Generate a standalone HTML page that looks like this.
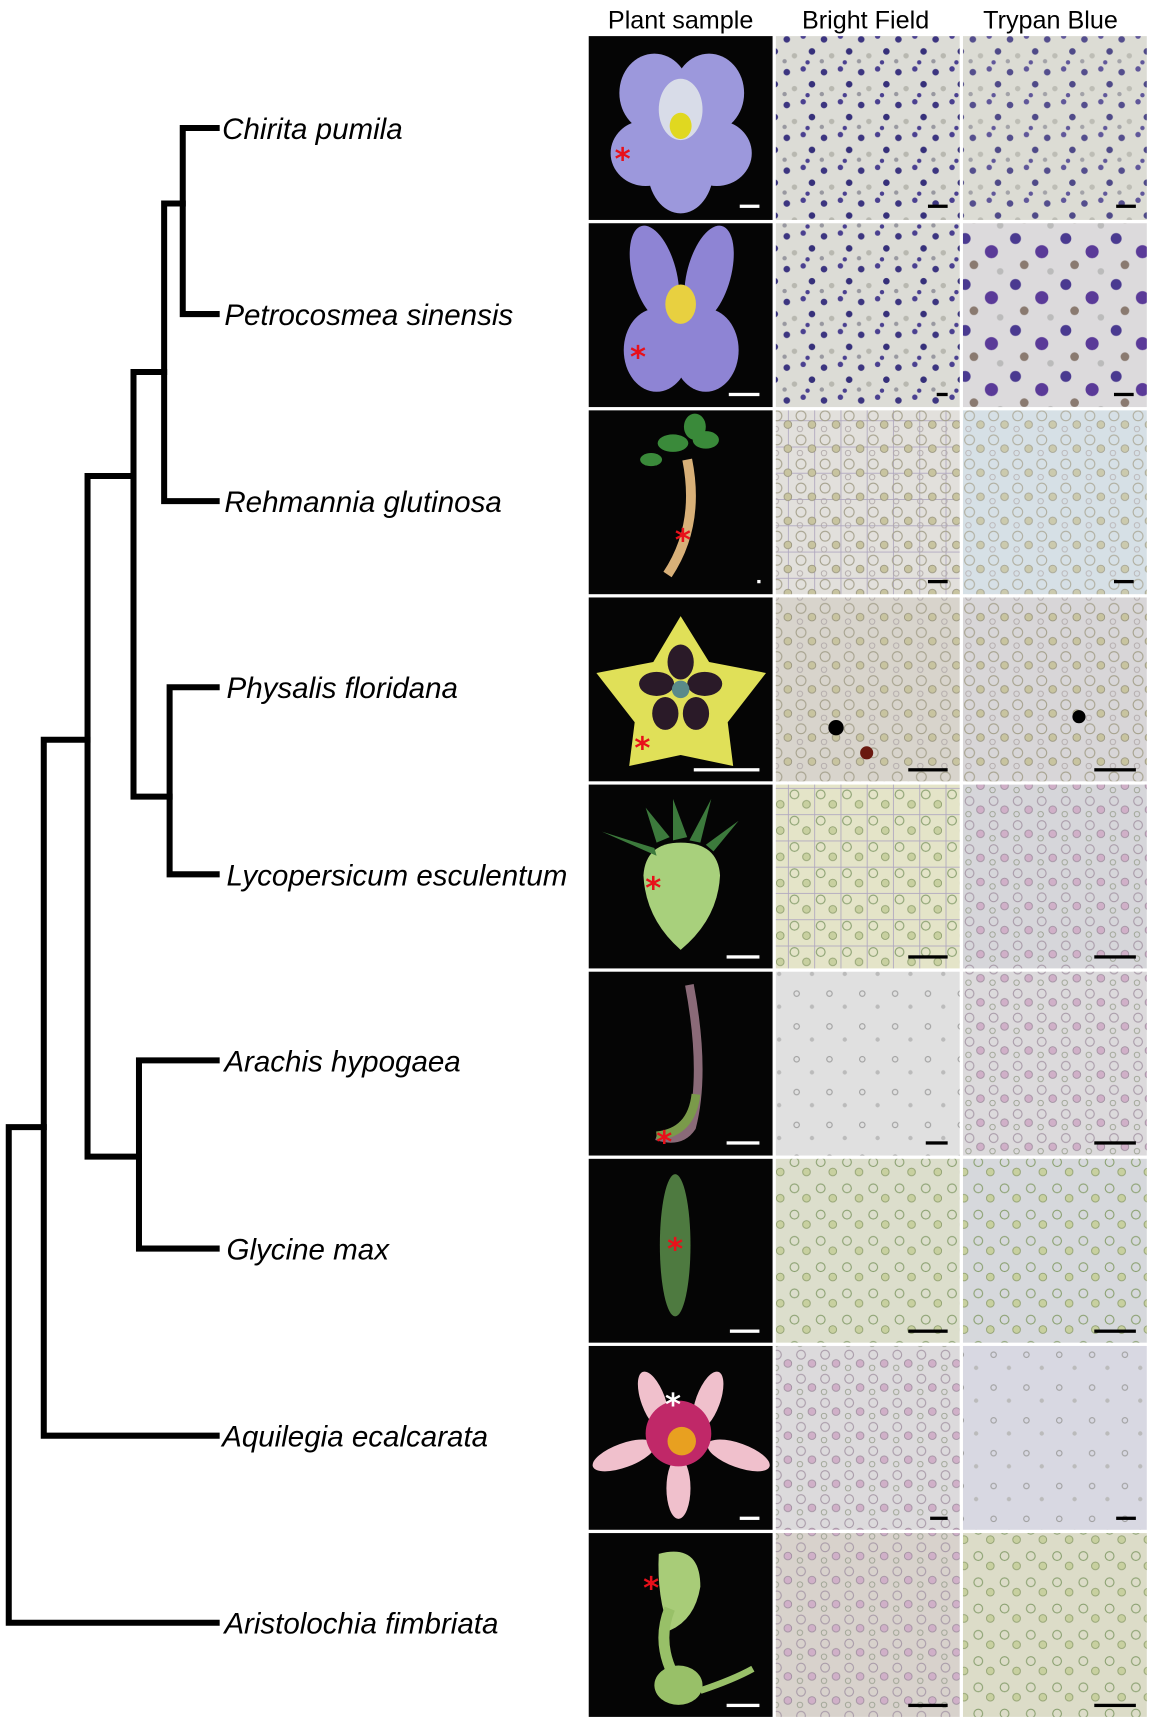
<!DOCTYPE html>
<html><head><meta charset="utf-8"><style>
html,body{margin:0;padding:0;background:#fff;}
svg{display:block;}
</style></head><body>
<svg width="1149" height="1718" viewBox="0 0 1050 1570" preserveAspectRatio="none" xmlns="http://www.w3.org/2000/svg">
<defs>
<pattern id="blue" width="34" height="30" patternUnits="userSpaceOnUse">
<circle cx="5" cy="6" r="3" fill="#3c3580"/><circle cx="20" cy="3" r="2.5" fill="#4a4090"/><circle cx="28" cy="17" r="3" fill="#36307a"/><circle cx="12" cy="21" r="2.5" fill="#b8b8b0"/><circle cx="24" cy="27" r="2" fill="#4a4090"/><circle cx="3" cy="26" r="2" fill="#9898a0"/>
</pattern>
<pattern id="blue2" width="46" height="42" patternUnits="userSpaceOnUse">
<circle cx="8" cy="8" r="5" fill="#4a3a90"/><circle cx="32" cy="20" r="6" fill="#5a3a98"/><circle cx="16" cy="32" r="4" fill="#8a7a70"/><circle cx="40" cy="38" r="3" fill="#bbb"/>
</pattern>
<pattern id="cells" width="22" height="22" patternUnits="userSpaceOnUse">
<circle cx="6" cy="6" r="4.5" fill="none" stroke="#a6a28e" stroke-width="1"/><circle cx="16" cy="14" r="3.5" fill="#c8c4a0" stroke="#9a9680" stroke-width="0.8"/><circle cx="5" cy="18" r="2.5" fill="none" stroke="#b0a8a8" stroke-width="0.8"/>
</pattern>
<pattern id="cellsp" width="22" height="22" patternUnits="userSpaceOnUse">
<circle cx="6" cy="6" r="4" fill="none" stroke="#a89aa8" stroke-width="1"/><circle cx="16" cy="14" r="3.5" fill="#d0b0c8" stroke="#a090a0" stroke-width="0.8"/><circle cx="5" cy="18" r="2.5" fill="none" stroke="#9aa090" stroke-width="0.8"/>
</pattern>
<pattern id="cellsg" width="24" height="24" patternUnits="userSpaceOnUse">
<circle cx="6" cy="6" r="4" fill="none" stroke="#8aa070" stroke-width="1"/><circle cx="17" cy="15" r="3.5" fill="#c8d0a0" stroke="#90a070" stroke-width="0.8"/>
</pattern>
<pattern id="sparse" width="30" height="30" patternUnits="userSpaceOnUse">
<circle cx="8" cy="8" r="2.5" fill="none" stroke="#a0a0a0" stroke-width="1"/><circle cx="22" cy="20" r="2" fill="#bbb"/>
</pattern>
<pattern id="grid" width="24" height="24" patternUnits="userSpaceOnUse">
<path d="M0 0.5H24M0.5 0V24" stroke="#b0a8c0" stroke-width="0.8" fill="none"/>
</pattern>
</defs>

<g font-family="Liberation Sans, sans-serif" font-size="23" fill="#000" text-anchor="middle">
<text x="622" y="26">Plant sample</text>
<text x="791" y="26">Bright Field</text>
<text x="960" y="26">Trypan Blue</text>
</g>

<g stroke="#000" stroke-width="5.5" fill="none" stroke-linecap="square">
<path d="M167 117V287M167 117H198M167 287H198"/>
<path d="M150 186V458M150 186H167M150 458H198"/>
<path d="M155 628V799M155 628H198M155 799H198"/>
<path d="M122 340V728M122 340H150M122 728H155"/>
<path d="M127 969V1141M127 969H198M127 1141H198"/>
<path d="M80 435V1057M80 435H122M80 1057H127"/>
<path d="M40 676V1312M40 676H80M40 1312H198"/>
<path d="M8 1030V1483M8 1030H40M8 1483H198"/>
</g>
<g font-family="Liberation Sans, sans-serif" font-style="italic" font-size="27" fill="#000">
<text x="203" y="127">Chirita pumila</text>
<text x="205" y="297">Petrocosmea sinensis</text>
<text x="205" y="468">Rehmannia glutinosa</text>
<text x="207" y="638">Physalis floridana</text>
<text x="207" y="809">Lycopersicum esculentum</text>
<text x="205" y="979">Arachis hypogaea</text>
<text x="207" y="1151">Glycine max</text>
<text x="203" y="1322">Aquilegia ecalcarata</text>
<text x="205" y="1493">Aristolochia fimbriata</text>
</g>

<g fill="#050505">
<rect x="538" y="33" width="168" height="168"/><rect x="538" y="204" width="168" height="168"/><rect x="538" y="375" width="168" height="168"/><rect x="538" y="546" width="168" height="168"/><rect x="538" y="717" width="168" height="168"/><rect x="538" y="888" width="168" height="168"/><rect x="538" y="1059" width="168" height="168"/><rect x="538" y="1230" width="168" height="168"/><rect x="538" y="1401" width="168" height="168"/>
</g>
<g fill="#9c98dc">
<ellipse cx="598" cy="85" rx="32" ry="36"/><ellipse cx="648" cy="85" rx="32" ry="36"/><ellipse cx="590" cy="140" rx="32" ry="30"/><ellipse cx="655" cy="140" rx="32" ry="30"/><ellipse cx="622" cy="155" rx="30" ry="40"/>
</g>
<ellipse cx="622" cy="100" rx="20" ry="28" fill="#d8dce8"/><ellipse cx="622" cy="115" rx="10" ry="12" fill="#e0d820"/>
<g fill="#8e84d4"><ellipse cx="598" cy="250" rx="20" ry="45" transform="rotate(-15 598 250)"/><ellipse cx="648" cy="250" rx="20" ry="45" transform="rotate(15 648 250)"/><ellipse cx="600" cy="320" rx="30" ry="38"/><ellipse cx="645" cy="320" rx="30" ry="38"/></g>
<ellipse cx="622" cy="278" rx="14" ry="18" fill="#e8d040"/>
<path d="M628 420 Q640 480 610 525" stroke="#d8b078" stroke-width="9" fill="none"/>
<g fill="#3a8a3a"><ellipse cx="615" cy="405" rx="14" ry="8"/><ellipse cx="645" cy="402" rx="12" ry="8"/><ellipse cx="595" cy="420" rx="10" ry="6"/><ellipse cx="635" cy="390" rx="10" ry="12"/></g>
<polygon points="622,563 648,605 700,615 665,660 670,700 622,690 575,700 580,660 545,615 597,605" fill="#e0e058"/>
<g fill="#2a1a28"><ellipse cx="622" cy="605" rx="12" ry="16"/><ellipse cx="600" cy="625" rx="16" ry="11"/><ellipse cx="644" cy="625" rx="16" ry="11"/><ellipse cx="608" cy="652" rx="12" ry="15"/><ellipse cx="636" cy="652" rx="12" ry="15"/></g>
<circle cx="622" cy="630" r="8" fill="#5a8a8a"/>
<path d="M588 800 Q590 770 622 770 Q656 770 658 800 Q656 840 622 868 Q590 840 588 800Z" fill="#a8d07c"/>
<g fill="#3c7a3c"><polygon points="600,770 590,738 612,765"/><polygon points="615,768 615,730 628,765"/><polygon points="630,768 650,730 640,770"/><polygon points="645,772 675,750 652,778"/><polygon points="598,775 550,760 600,782"/></g>
<path d="M630 900 Q645 980 632 1030 Q622 1045 600 1038" stroke="#8a6a78" stroke-width="8" fill="none"/>
<path d="M636 1000 Q632 1035 600 1038" stroke="#7a9a4a" stroke-width="8" fill="none"/>
<ellipse cx="617" cy="1138" rx="14" ry="65" fill="#4e7a40"/>
<g fill="#f0c0cc"><ellipse cx="597" cy="1280" rx="11" ry="28" transform="rotate(-20 597 1280)"/><ellipse cx="647" cy="1280" rx="11" ry="28" transform="rotate(20 647 1280)"/><ellipse cx="570" cy="1330" rx="30" ry="11" transform="rotate(-20 570 1330)"/><ellipse cx="675" cy="1330" rx="30" ry="11" transform="rotate(20 675 1330)"/><ellipse cx="620" cy="1360" rx="11" ry="28"/></g>
<circle cx="620" cy="1310" r="30" fill="#c02868"/><circle cx="623" cy="1317" r="13" fill="#e8a020"/>
<path d="M602 1420 Q640 1410 640 1450 Q635 1480 612 1490 Q600 1460 602 1420Z" fill="#a8cc78"/>
<path d="M612 1470 Q600 1500 615 1530" stroke="#98c068" stroke-width="10" fill="none"/>
<ellipse cx="620" cy="1540" rx="22" ry="18" fill="#98c068"/>
<path d="M640 1545 Q670 1535 688 1525" stroke="#98c068" stroke-width="6" fill="none"/>
<g font-family="DejaVu Sans, sans-serif" font-size="28" font-weight="bold" fill="#e8101a" text-anchor="middle">
<text x="569" y="155">*</text><text x="583" y="336">*</text><text x="624" y="503">*</text><text x="587" y="693">*</text><text x="597" y="821">*</text><text x="607" y="1053">*</text><text x="617" y="1151">*</text><text x="595" y="1461">*</text>
<text x="615" y="1293" fill="#fff">*</text>
</g>

<g>
<rect x="709" y="33" width="168" height="168" fill="#dcdcd6"/><rect x="709" y="33" width="168" height="168" fill="url(#blue)"/>
<rect x="880" y="33" width="168" height="168" fill="#dcdcd4"/><rect x="880" y="33" width="168" height="168" fill="url(#blue)" opacity="0.85"/>
<rect x="709" y="204" width="168" height="168" fill="#dcdcd6"/><rect x="709" y="204" width="168" height="168" fill="url(#blue)"/>
<rect x="880" y="204" width="168" height="168" fill="#dcdadc"/><rect x="880" y="204" width="168" height="168" fill="url(#blue2)"/>
<rect x="709" y="375" width="168" height="168" fill="#e2e0dc"/><rect x="709" y="375" width="168" height="168" fill="url(#grid)"/><rect x="709" y="375" width="168" height="168" fill="url(#cells)"/>
<rect x="880" y="375" width="168" height="168" fill="#d6e0e6"/><rect x="880" y="375" width="168" height="168" fill="url(#cells)" opacity="0.8"/>
<rect x="709" y="546" width="168" height="168" fill="#d8d4cc"/><rect x="709" y="546" width="168" height="168" fill="url(#cells)"/>
<rect x="880" y="546" width="168" height="168" fill="#d8d6d8"/><rect x="880" y="546" width="168" height="168" fill="url(#cells)"/>
<rect x="709" y="717" width="168" height="168" fill="#e4e4c8"/><rect x="709" y="717" width="168" height="168" fill="url(#grid)"/><rect x="709" y="717" width="168" height="168" fill="url(#cellsg)"/>
<rect x="880" y="717" width="168" height="168" fill="#d6d6da"/><rect x="880" y="717" width="168" height="168" fill="url(#cellsp)"/>
<rect x="709" y="888" width="168" height="168" fill="#e0e0e0"/><rect x="709" y="888" width="168" height="168" fill="url(#sparse)"/>
<rect x="880" y="888" width="168" height="168" fill="#dcdadc"/><rect x="880" y="888" width="168" height="168" fill="url(#cellsp)"/>
<rect x="709" y="1059" width="168" height="168" fill="#dcdecc"/><rect x="709" y="1059" width="168" height="168" fill="url(#cellsg)"/>
<rect x="880" y="1059" width="168" height="168" fill="#d6d8dc"/><rect x="880" y="1059" width="168" height="168" fill="url(#cellsg)"/>
<rect x="709" y="1230" width="168" height="168" fill="#dcdadc"/><rect x="709" y="1230" width="168" height="168" fill="url(#cellsp)"/>
<rect x="880" y="1230" width="168" height="168" fill="#d8d8e2"/><rect x="880" y="1230" width="168" height="168" fill="url(#sparse)"/>
<rect x="709" y="1401" width="168" height="168" fill="#d8d2cc"/><rect x="709" y="1401" width="168" height="168" fill="url(#cellsp)"/>
<rect x="880" y="1401" width="168" height="168" fill="#dcdcc8"/><rect x="880" y="1401" width="168" height="168" fill="url(#cellsg)"/>
</g>
<circle cx="764" cy="665" r="7" fill="#000"/><circle cx="792" cy="688" r="6" fill="#6a1a10"/><circle cx="986" cy="655" r="6" fill="#000"/>

<g fill="#fff">
<rect x="676" y="187" width="18" height="3"/><rect x="666" y="359" width="28" height="3"/><rect x="692" y="530" width="3" height="3"/><rect x="634" y="702" width="60" height="3"/><rect x="664" y="873" width="30" height="3"/><rect x="664" y="1043" width="30" height="3"/><rect x="667" y="1215" width="27" height="3"/><rect x="676" y="1386" width="18" height="3"/><rect x="664" y="1557" width="30" height="3"/>
</g>
<g fill="#000">
<rect x="848" y="187" width="18" height="3"/><rect x="1020" y="187" width="18" height="3"/>
<rect x="856" y="359" width="10" height="3"/><rect x="1018" y="359" width="18" height="3"/>
<rect x="848" y="530" width="18" height="3"/><rect x="1018" y="530" width="18" height="3"/>
<rect x="830" y="702" width="36" height="3"/><rect x="1000" y="702" width="38" height="3"/>
<rect x="830" y="873" width="36" height="3"/><rect x="1000" y="873" width="38" height="3"/>
<rect x="846" y="1043" width="20" height="3"/><rect x="1000" y="1043" width="38" height="3"/>
<rect x="830" y="1215" width="36" height="3"/><rect x="1000" y="1215" width="38" height="3"/>
<rect x="850" y="1386" width="16" height="3"/><rect x="1020" y="1386" width="18" height="3"/>
<rect x="830" y="1557" width="36" height="3"/><rect x="1000" y="1557" width="38" height="3"/>
</g>
</svg>
</body></html>
